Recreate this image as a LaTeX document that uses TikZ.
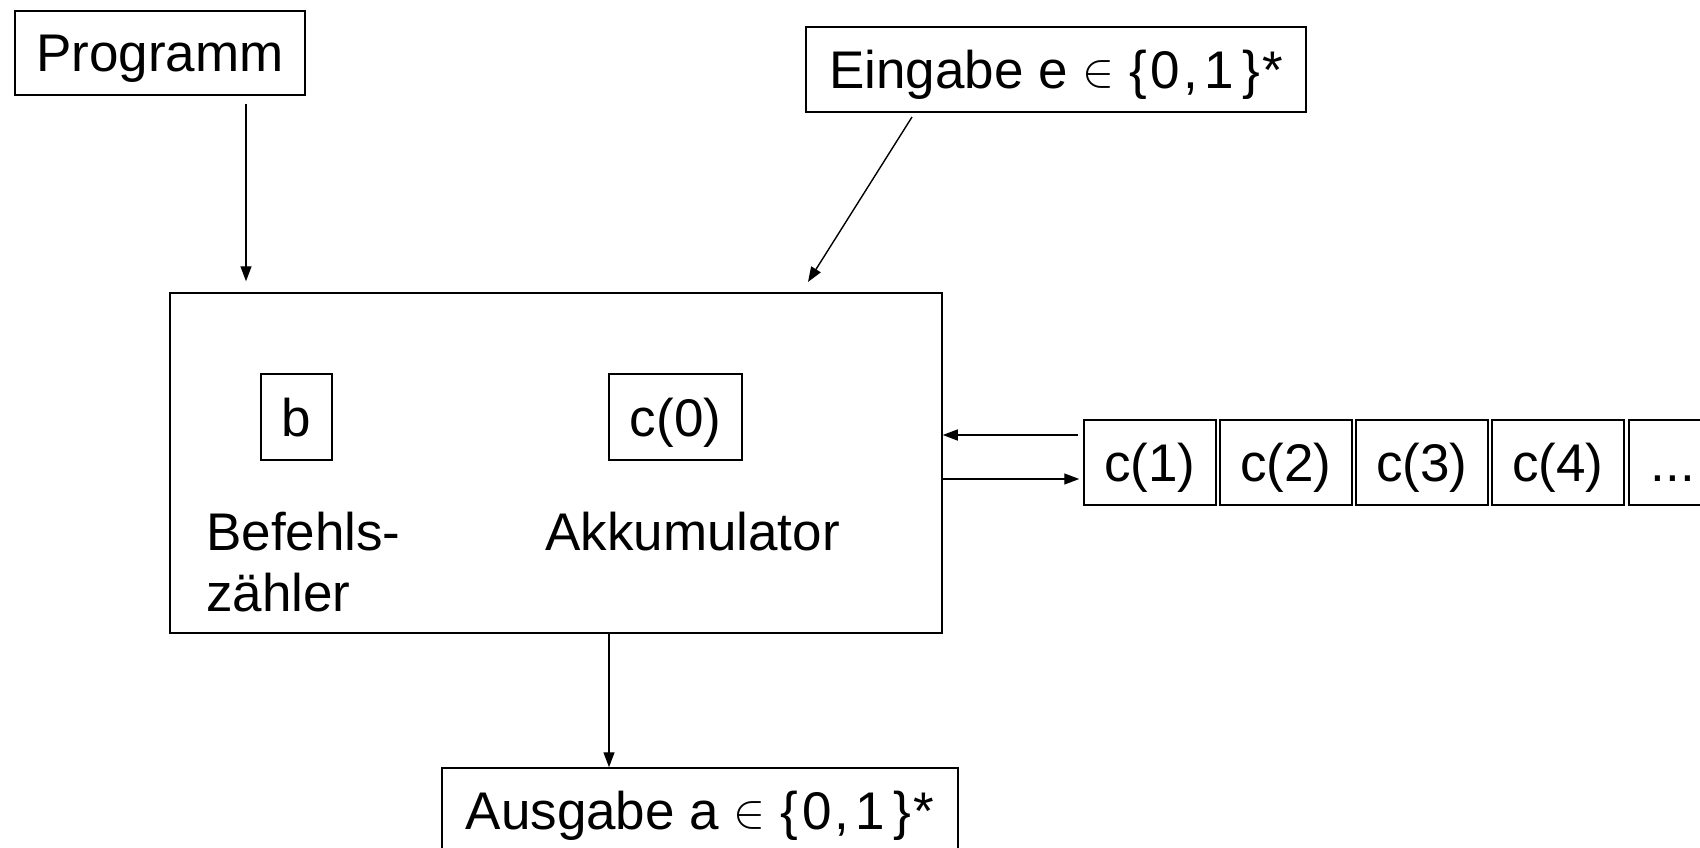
\RequirePackage{fix-cm}
\documentclass[tikz,border=0pt]{standalone}
\usepackage{fontspec}
\setmainfont{Liberation Sans}
\usetikzlibrary{arrows.meta,calc}
% element sign and the set of binary words
\newcommand\inbits{\raisebox{2pt}{\fontsize{48}{48}\selectfont$\in$} \{\kern4pt 0\kern3pt,\kern6pt 1\kern9pt\}\kern2pt*}
\begin{document}
\begin{tikzpicture}[x=1pt,y=-1pt,
  every node/.style={font=\fontsize{53}{61}\selectfont, inner sep=0pt},
  box/.style={draw, line width=1.5pt, text height=38pt, text depth=0pt},
  cell/.style={box, minimum width=132, minimum height=85},
  label/.style={anchor=base west},
  arr/.style={-{Triangle[length=15pt,width=11pt]}, line width=1.4pt}]
\useasboundingbox (0,0) rectangle (1700,848);
\clip (0,0) rectangle (1700,848);
% inputs
\node[box, minimum width=290, minimum height=84] (prog) at (160,53) {Programm};
\node[box, minimum width=500, minimum height=85] (eing) at (1056,69.5) {Eingabe e \inbits};
% processor
\node[box, minimum width=772, minimum height=340] (main) at (556,463) {};
\node[box, minimum width=71, minimum height=86] (b) at (296.5,417) {b};
\node[box, minimum width=133, minimum height=86] (c0) at (675.5,417) {c(0)};
\node[label] (bz1) at (206,550) {Befehls-};
\node[label] (bz2) at (206,611) {zähler};
\node[label] (akk) at (545,550) {Akkumulator};
% memory cells
\node[cell] (c1) at (1150,462.5) {c(1)};
\node[cell] (c2) at (1286,462.5) {c(2)};
\node[cell] (c3) at (1422,462.5) {c(3)};
\node[cell] (c4) at (1558,462.5) {c(4)};
\node[cell, anchor=west, inner xsep=22pt, text width=88pt, align=left] (c5) at (1628,462.5) {...};
% output
\node[box, minimum width=516, minimum height=85] (aus) at (700,810.5) {Ausgabe a \inbits};
% connectors
\coordinate (px) at (246,0);
\draw[arr, shorten <=8pt, shorten >=11pt] (px |- prog.south) -- (px |- main.north);
\coordinate (e1) at (912,117);
\coordinate (e2) at (808,282);
\draw[arr] (e1) -- (e2);
\coordinate (ly) at (0,435);
\coordinate (ry) at (0,479);
\draw[arr, shorten <=5pt] (c1.west |- ly) -- (main.east |- ly);
\draw[arr, shorten >=4pt] (main.east |- ry) -- (c1.west |- ry);
\coordinate (ox) at (609,0);
\draw[arr] (ox |- main.south) -- (ox |- aus.north);
\end{tikzpicture}
\end{document}
